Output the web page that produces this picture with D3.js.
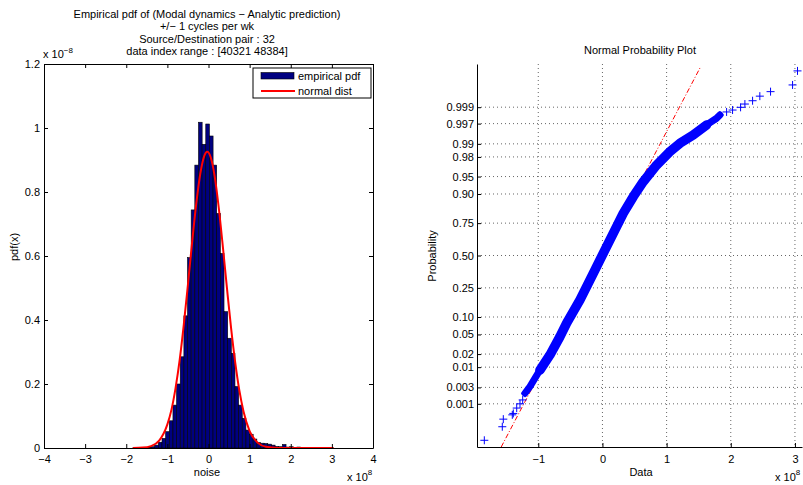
<html>
<head>
<meta charset="utf-8">
<title>Empirical pdf and normal probability plot</title>
<script src="https://d3js.org/d3.v7.min.js"></script>
<style>
body { margin: 0; background: #fff; }
svg text { font-family: "Liberation Sans", Arial, Helvetica, sans-serif; }
</style>
</head>
<body>
<div id="chart"></div>
<script>

///////////////////////////////////////////
//////  data  ////////
///////////////////////////////////////////

// histogram: bin centers (x 1e8) and pdf heights (x 1e-8)
var binCenters = [-1.796, -1.707, -1.619, -1.530, -1.441, -1.353, -1.264, -1.175, -1.086, -0.998,
  -0.909, -0.820, -0.732, -0.643, -0.554, -0.466, -0.377, -0.288, -0.199, -0.111,
  -0.022, 0.067, 0.155, 0.244, 0.333, 0.422, 0.510, 0.599, 0.688, 0.776,
  0.865, 0.954, 1.042, 1.131, 1.220, 1.308, 1.397, 1.486, 1.575, 1.663,
  1.752, 1.841, 1.929, 2.018, 2.107, 2.195, 2.284, 2.373, 2.461, 2.550,
  2.639, 2.728, 2.816, 2.905, 2.994];
var binHeights = [0.0003, 0.0003, 0.0005, 0.001, 0.002, 0.004, 0.009, 0.018, 0.030, 0.051,
  0.085, 0.134, 0.200, 0.285, 0.413, 0.595, 0.744, 0.884, 1.018, 0.949,
  1.0125, 0.975, 0.884, 0.733, 0.608, 0.426, 0.343, 0.296, 0.192, 0.134,
  0.093, 0.056, 0.043, 0.028, 0.017, 0.015, 0.014, 0.012, 0.009, 0.005,
  0.004, 0.011, 0.003, 0.004, 0.002, 0.003, 0.001, 0.002, 0.001, 0.001,
  0.0005, 0.001, 0.0003, 0.0003, 0.0005];
var binWidth = 0.0887;

// fitted normal curve
var pdfX = [-1.84, -1.6, -1.4, -1.2, -1.0, -0.9, -0.8, -0.7, -0.6, -0.5, -0.4, -0.3, -0.2, -0.1, -0.03,
  0.05, 0.15, 0.25, 0.35, 0.45, 0.55, 0.65, 0.75, 0.85, 1.0, 1.2, 1.4, 1.7, 2.0, 2.5, 3.04];
var pdfY = [0.0001, 0.0012, 0.006, 0.023, 0.074, 0.120, 0.188, 0.276, 0.386, 0.511, 0.641, 0.761, 0.857, 0.914, 0.926,
  0.910, 0.849, 0.750, 0.628, 0.498, 0.374, 0.267, 0.180, 0.115, 0.053, 0.016, 0.0038, 0.0003, 0, 0, 0];

// normal probability plot: sorted data (x 1e8) and plotting probability
var qqX = [-1.841, -1.561, -1.545, -1.405, -1.389, -1.336, -1.285, -1.243, -1.207, -1.129,
  -0.974, -0.818, -0.662, -0.558, -0.350, -0.143, 0.012, 0.168, 0.324, 0.480,
  0.636, 0.844, 1.051, 1.207, 1.414, 1.623, 1.779, 1.830, 1.935, 2.028,
  2.153, 2.220, 2.340, 2.453, 2.620, 2.963, 3.040];
var qqP = [0.000059, 0.00018, 0.000325, 0.00045, 0.0005, 0.00074, 0.001, 0.00131, 0.00205, 0.00317,
  0.0085, 0.0191, 0.0455, 0.0793, 0.177, 0.355, 0.518, 0.678, 0.810, 0.8897,
  0.9379, 0.9703, 0.9847, 0.9903, 0.99396, 0.99674, 0.99788, 0.99829, 0.99861, 0.99878,
  0.99899, 0.99920, 0.99937, 0.99955, 0.99968, 0.99981, 0.99994];
// reference line end points
var refX = [-1.578, 1.530];
var refP = [0.000033, 0.999958];

// ticks
var histXTicks = [-4, -3, -2, -1, 0, 1, 2, 3, 4];
var histYTicks = [0, 0.2, 0.4, 0.6, 0.8, 1, 1.2];
var qqXTicks = [-1, 0, 1, 2, 3];
var probTicks = [0.001, 0.003, 0.01, 0.02, 0.05, 0.10, 0.25, 0.50, 0.75, 0.90, 0.95, 0.98, 0.99, 0.997, 0.999];
var probLabels = ["0.001", "0.003", "0.01", "0.02", "0.05", "0.10", "0.25", "0.50", "0.75", "0.90", "0.95", "0.98", "0.99", "0.997", "0.999"];

var titleLines = ["Empirical pdf of (Modal dynamics \u2212 Analytic prediction)",
  "+/\u2212 1 cycles per wk", "Source/Destination pair : 32", "data index range : [40321 48384]"];

///////////////////////////////////////////
//////  helpers  //////////////////////////
///////////////////////////////////////////

// inverse normal cdf (Acklam) for the probability axis
function probit(p) {
  var a = [-3.969683028665376e+01, 2.209460984245205e+02, -2.759285104469687e+02, 1.383577518672690e+02, -3.066479806614716e+01, 2.506628277459239e+00];
  var b = [-5.447609879822406e+01, 1.615858368580409e+02, -1.556989798598866e+02, 6.680131188771972e+01, -1.328068155288572e+01];
  var c = [-7.784894002430293e-03, -3.223964580411365e-01, -2.400758277161838e+00, -2.549732539343734e+00, 4.374664141464968e+00, 2.938163982698783e+00];
  var d = [7.784695709041462e-03, 3.224671290700398e-01, 2.445134137142996e+00, 3.754408661907416e+00];
  var q, r;
  if (p < 0.02425) {
    q = Math.sqrt(-2 * Math.log(p));
    return (((((c[0]*q+c[1])*q+c[2])*q+c[3])*q+c[4])*q+c[5]) / ((((d[0]*q+d[1])*q+d[2])*q+d[3])*q+1);
  }
  if (p > 1 - 0.02425) {
    q = Math.sqrt(-2 * Math.log(1 - p));
    return -(((((c[0]*q+c[1])*q+c[2])*q+c[3])*q+c[4])*q+c[5]) / ((((d[0]*q+d[1])*q+d[2])*q+d[3])*q+1);
  }
  q = p - 0.5; r = q * q;
  return (((((a[0]*r+a[1])*r+a[2])*r+a[3])*r+a[4])*r+a[5])*q / (((((b[0]*r+b[1])*r+b[2])*r+b[3])*r+b[4])*r+1);
}

var FONT = '"Liberation Sans", Arial, Helvetica, sans-serif';
var minusFmt = d => (d < 0 ? "\u2212" : "") + Math.abs(d);

function styleAxis(g) {
  g.attr("font-size", 11).attr("font-family", FONT);
  g.selectAll("text").attr("fill", "#000");
  g.selectAll("line").attr("stroke", "#000");
  g.select(".domain").attr("stroke", "#000");
}

var svg = d3.select("#chart").append("svg").attr("width", 803).attr("height", 485);

/////////////////////////////////
//////  LEFT : HISTOGRAM  ///////
/////////////////////////////////

var hx = d3.scaleLinear().domain([-4, 4]).range([44, 373]);
var hy = d3.scaleLinear().domain([0, 1.2]).range([448, 64]);

var bins = binCenters.map((c, i) => ({ c: c, h: binHeights[i] }));

svg.append("g").selectAll("rect")
  .data(bins).enter().append("rect")
  .attr("x", d => hx(d.c - binWidth / 2))
  .attr("width", d => hx(d.c + binWidth / 2) - hx(d.c - binWidth / 2))
  .attr("y", d => hy(d.h))
  .attr("height", d => hy(0) - hy(d.h))
  .attr("fill", "#000080")
  .attr("stroke", "#000")
  .attr("stroke-width", 0.6);

var pdfLine = d3.line().x(d => hx(d[0])).y(d => hy(d[1])).curve(d3.curveMonotoneX);
svg.append("path")
  .datum(pdfX.map((x, i) => [x, pdfY[i]]))
  .attr("d", pdfLine)
  .attr("fill", "none")
  .attr("stroke", "#ff0000")
  .attr("stroke-width", 2);

// axes (box with inward ticks)
svg.append("g").attr("transform", "translate(0,448)")
  .call(d3.axisBottom(hx).tickValues(histXTicks).tickSizeInner(-4).tickSizeOuter(0).tickPadding(7).tickFormat(minusFmt))
  .call(styleAxis);
svg.append("g").attr("transform", "translate(0,64)")
  .call(d3.axisTop(hx).tickValues(histXTicks).tickSizeInner(-4).tickSizeOuter(0).tickFormat(""))
  .call(styleAxis);
svg.append("g").attr("transform", "translate(44,0)")
  .call(d3.axisLeft(hy).tickValues(histYTicks).tickSizeInner(-4).tickSizeOuter(0).tickPadding(4)
    .tickFormat(d => String(+d.toFixed(1))))
  .call(styleAxis);
svg.append("g").attr("transform", "translate(373,0)")
  .call(d3.axisRight(hy).tickValues(histYTicks).tickSizeInner(-4).tickSizeOuter(0).tickFormat(""))
  .call(styleAxis);

// title and labels
svg.append("g").selectAll("text")
  .data(titleLines).enter().append("text")
  .attr("x", 207).attr("y", (d, i) => 18 + i * 12.3)
  .attr("text-anchor", "middle").attr("font-size", 11).attr("font-family", FONT)
  .text(d => d);

var e1 = svg.append("text").attr("x", 43).attr("y", 58).attr("font-size", 11).attr("font-family", FONT);
e1.append("tspan").text("x 10");
e1.append("tspan").attr("dy", -5).attr("font-size", 8).text("\u22128");

svg.append("text").attr("x", 207).attr("y", 476)
  .attr("text-anchor", "middle").attr("font-size", 11).attr("font-family", FONT).text("noise");

var e2 = svg.append("text").attr("x", 347).attr("y", 481).attr("font-size", 11).attr("font-family", FONT);
e2.append("tspan").text("x 10");
e2.append("tspan").attr("dy", -6).attr("font-size", 8).text("8");

svg.append("text").attr("transform", "translate(18,247) rotate(-90)")
  .attr("text-anchor", "middle").attr("font-size", 11).attr("font-family", FONT).text("pdf(x)");

// legend
var leg = svg.append("g");
leg.append("rect").attr("x", 253).attr("y", 68).attr("width", 118).attr("height", 30)
  .attr("fill", "#fff").attr("stroke", "#000").attr("stroke-width", 1);
leg.append("rect").attr("x", 261).attr("y", 72.5).attr("width", 33).attr("height", 6.5)
  .attr("fill", "#000080").attr("stroke", "#000").attr("stroke-width", 0.6);
leg.append("line").attr("x1", 261).attr("x2", 295).attr("y1", 91).attr("y2", 91)
  .attr("stroke", "#ff0000").attr("stroke-width", 2);
leg.append("text").attr("x", 298).attr("y", 79.5).attr("font-size", 11).attr("font-family", FONT).text("empirical pdf");
leg.append("text").attr("x", 298).attr("y", 95).attr("font-size", 11).attr("font-family", FONT).text("normal dist");

/////////////////////////////////////////
//////  RIGHT : NORMAL PROB PLOT  ///////
/////////////////////////////////////////

var qx = d3.scaleLinear().domain([-1.955, 3.11]).range([477, 802]);
var qz = d3.scaleLinear().domain([-3.99, 3.99]).range([447, 64]);
var qy = p => qz(probit(p));

// dotted grid
var grid = svg.append("g").attr("stroke", "#666").attr("stroke-width", 1).attr("stroke-dasharray", "1,3");
grid.selectAll(".vg").data(qqXTicks).enter().append("line")
  .attr("x1", d => qx(d)).attr("x2", d => qx(d)).attr("y1", 64).attr("y2", 447);
grid.selectAll(".hg").data(probTicks).enter().append("line")
  .attr("x1", 477).attr("x2", 802).attr("y1", d => qy(d)).attr("y2", d => qy(d));

// reference line
svg.append("line")
  .attr("x1", qx(refX[0])).attr("y1", qy(refP[0]))
  .attr("x2", qx(refX[1])).attr("y2", qy(refP[1]))
  .attr("stroke", "#ff0000").attr("stroke-width", 1)
  .attr("stroke-dasharray", "5,2,1,2");

var pts = qqX.map((x, i) => [x, qqP[i]]);
var bandLine = d3.line().x(d => qx(d[0])).y(d => qy(d[1]));

// dense part: markers overlap into a band, thinner towards both ends
function band(from, to, w) {
  svg.append("path")
    .datum(pts.slice(from, to))
    .attr("d", bandLine)
    .attr("fill", "none")
    .attr("stroke", "#0000ff")
    .attr("stroke-width", w)
    .attr("stroke-linecap", "round")
    .attr("stroke-linejoin", "round");
}
band(8, 12, 7);
band(24, 28, 7);
band(10, 26, 9.5);

svg.append("g").selectAll("path")
  .data(pts).enter().append("path")
  .attr("transform", d => "translate(" + qx(d[0]) + "," + qy(d[1]) + ")")
  .attr("d", "M-4,0H4M0,-4V4")
  .attr("stroke", "#0000ff")
  .attr("stroke-width", 1)
  .attr("fill", "none");

// axes
svg.append("g").attr("transform", "translate(0,447)")
  .call(d3.axisBottom(qx).tickValues(qqXTicks).tickSizeInner(-4).tickSizeOuter(0).tickPadding(8).tickFormat(minusFmt))
  .call(styleAxis);
svg.append("g").attr("transform", "translate(477,0)")
  .call(d3.axisLeft(qz).tickValues(probTicks.map(probit)).tickSizeInner(-4).tickSizeOuter(0).tickPadding(3)
    .tickFormat((d, i) => probLabels[i]))
  .call(styleAxis);

svg.append("text").attr("x", 640).attr("y", 54)
  .attr("text-anchor", "middle").attr("font-size", 11).attr("font-family", FONT).text("Normal Probability Plot");
svg.append("text").attr("x", 641).attr("y", 476)
  .attr("text-anchor", "middle").attr("font-size", 11).attr("font-family", FONT).text("Data");
svg.append("text").attr("transform", "translate(436,256) rotate(-90)")
  .attr("text-anchor", "middle").attr("font-size", 11).attr("font-family", FONT).text("Probability");

var e3 = svg.append("text").attr("x", 775).attr("y", 481).attr("font-size", 11).attr("font-family", FONT);
e3.append("tspan").text("x 10");
e3.append("tspan").attr("dy", -6).attr("font-size", 8).text("8");

</script>
</body>
</html>
